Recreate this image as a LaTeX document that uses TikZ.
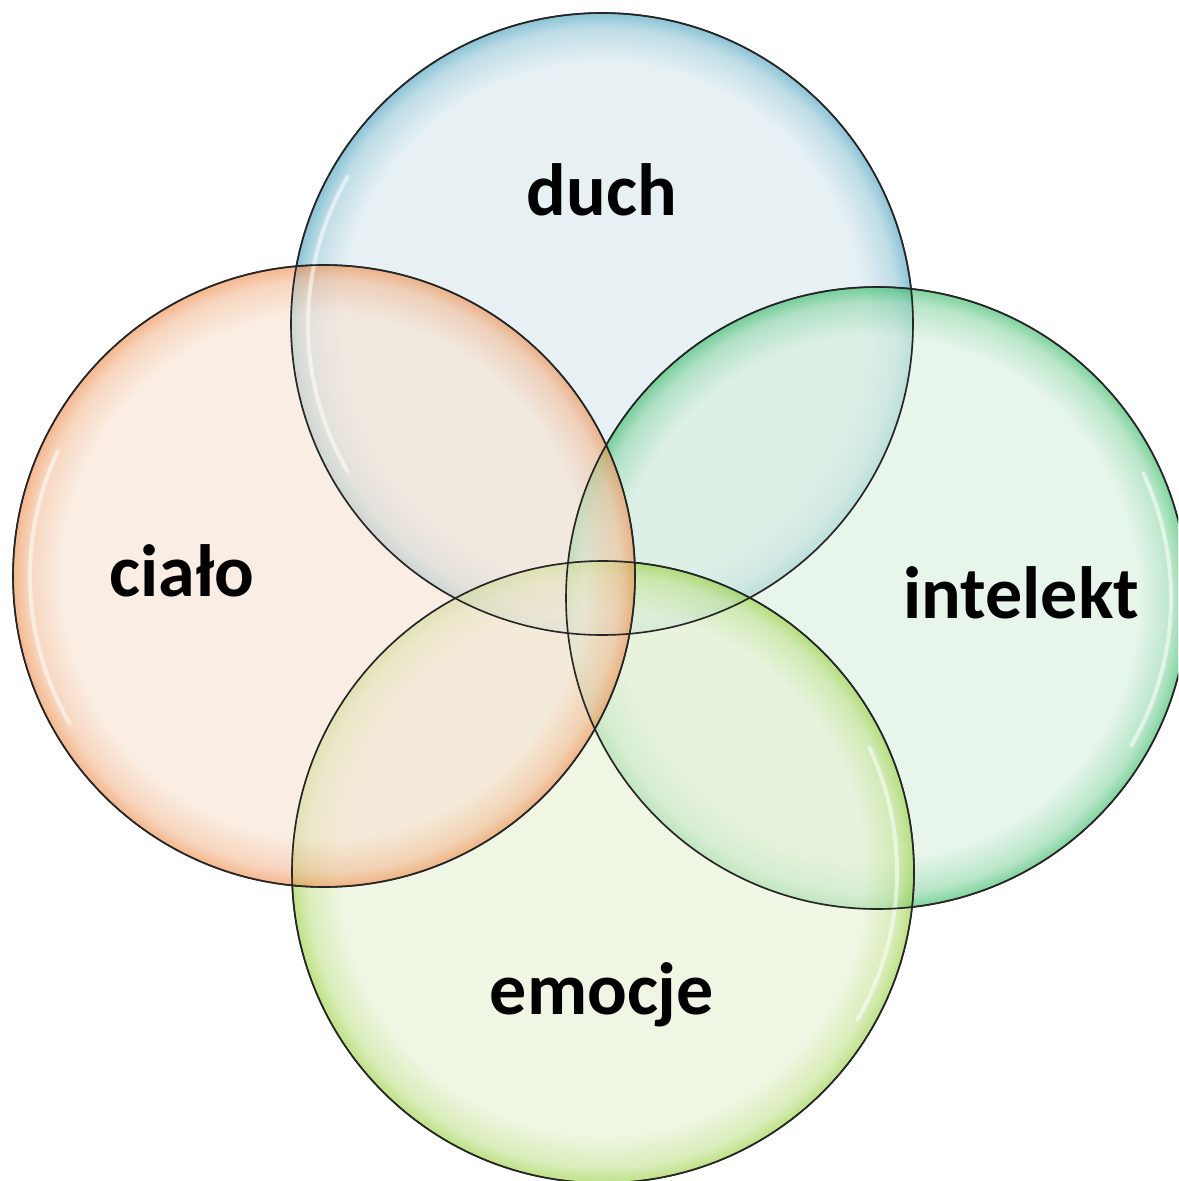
\documentclass[tikz,border=0pt]{standalone}
\usepackage{fontspec}
\setmainfont{Carlito}
\definecolor{bluein}{RGB}{217,233,238}
\definecolor{bluerim}{RGB}{70,160,190}
\definecolor{orangein}{RGB}{248,228,212}
\definecolor{orangerim}{RGB}{238,140,75}
\definecolor{greenin}{RGB}{217,240,223}
\definecolor{greenrim}{RGB}{50,185,100}
\definecolor{limein}{RGB}{232,242,213}
\definecolor{limerim}{RGB}{150,208,60}
\pgfdeclareradialshading{blueglow}{\pgfpoint{0bp}{0bp}}{color(0bp)=(bluein); color(21bp)=(bluein); color(23.8bp)=(bluerim!45!bluein); color(25bp)=(bluerim); color(50bp)=(bluerim)}
\pgfdeclareradialshading{orangeglow}{\pgfpoint{0bp}{0bp}}{color(0bp)=(orangein); color(21bp)=(orangein); color(23.8bp)=(orangerim!45!orangein); color(25bp)=(orangerim); color(50bp)=(orangerim)}
\pgfdeclareradialshading{greenglow}{\pgfpoint{0bp}{0bp}}{color(0bp)=(greenin); color(21bp)=(greenin); color(23.8bp)=(greenrim!45!greenin); color(25bp)=(greenrim); color(50bp)=(greenrim)}
\pgfdeclareradialshading{limeglow}{\pgfpoint{0bp}{0bp}}{color(0bp)=(limein); color(21bp)=(limein); color(23.8bp)=(limerim!45!limein); color(25bp)=(limerim); color(50bp)=(limerim)}
\tikzset{
  bubble/.style={circle, inner sep=0pt, minimum size=311pt, fill opacity=0.62, draw=black!85, draw opacity=1, line width=0.75pt},
  glint/.style={white, line width=2pt, opacity=0.55, line cap=round},
  label/.style={font=\fontsize{37pt}{40pt}\selectfont\bfseries, text=black, anchor=base, inner sep=0pt}
}
\begin{document}
\begin{tikzpicture}[x=0.5pt, y=-0.5pt]
\useasboundingbox (0,0) rectangle (1178,1181);
\fill[white] (0,0) rectangle (1178,1181);
\begin{scope}
\clip (0,0) rectangle (1178,1181);
\node[bubble, shading=blueglow] (duchc) at (602,324) {};
\node[bubble, shading=greenglow] (intc) at (877,598) {};
\node[bubble, shading=limeglow] (emoc) at (603,872) {};
\node[bubble, shading=orangeglow] (cialoc) at (324,576) {};
% highlights
\draw[glint] ([shift={(150:147pt)}]duchc.center) arc[start angle=150, end angle=210, radius=147pt];
\draw[glint] ([shift={(155:147pt)}]cialoc.center) arc[start angle=155, end angle=210, radius=147pt];
\draw[glint] ([shift={(-30:147pt)}]intc.center) arc[start angle=-30, end angle=25, radius=147pt];
\draw[glint] ([shift={(-30:147pt)}]emoc.center) arc[start angle=-30, end angle=25, radius=147pt];
% outlines on top
\foreach \c in {duchc,intc,emoc,cialoc}
  \draw[black!85, line width=0.8pt] (\c) circle[radius=155.5pt];
\end{scope}
\node[label] (duch) at (602,216) {duch};
\node[label] (cialo) at (182,596) {ciało};
\node[label] (intelekt) at (1021,618) {intelekt};
\node[label] (emocje) at (602,1014) {emocje};
\end{tikzpicture}
\end{document}
